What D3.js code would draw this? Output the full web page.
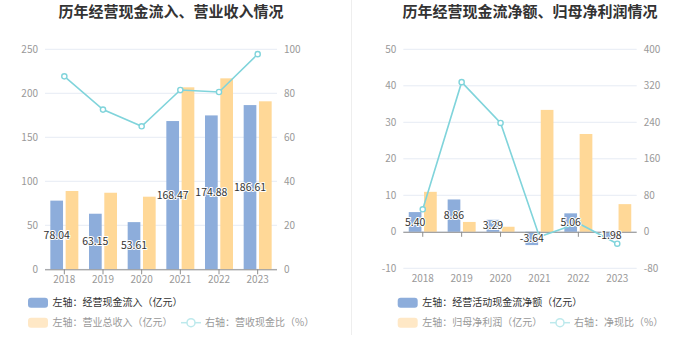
<!DOCTYPE html>
<html><head><meta charset="utf-8">
<script src="https://cdn.jsdelivr.net/npm/d3@7/dist/d3.min.js"></script>
<style>
html,body{margin:0;padding:0;background:#fff;}
svg{display:block;font-family:"Noto Sans CJK SC","Noto Sans",sans-serif;}
</style></head>
<body><svg id="c" width="700" height="359"></svg>
<script>
const years = ["2018","2019","2020","2021","2022","2023"];
// Left chart
const cashInflow = [78.04, 63.15, 53.61, 168.47, 174.88, 186.61];
const revenue = [89.0, 87.0, 82.5, 206.8, 217.0, 190.9];
const cashRatio = [87.7, 72.6, 65.0, 81.5, 80.6, 97.8];
const leftTicksL = [0, 50, 100, 150, 200, 250];
const leftTicksR = [0, 20, 40, 60, 80, 100];
// Right chart
const netCashFlow = [5.40, 8.86, 3.29, -3.64, 5.06, -1.98];
const netProfit = [10.95, 2.70, 1.38, 33.4, 26.8, 7.58];
const netRatio = [49.3, 328.0, 238.6, -10.9, 18.9, -26.1];
const rightTicksL = [-10, 0, 10, 20, 30, 40, 50];
const rightTicksR = [-80, 0, 80, 160, 240, 320, 400];

const BLUE = "#8DADDB", YEL = "#FFD897", CYAN = "#80D4DB";
const svg = d3.select("#c");

svg.append("line").attr("x1",351.5).attr("x2",351.5).attr("y1",0).attr("y2",335)
  .attr("stroke","#EEEEEE").attr("stroke-width",1);

function chart(o){
  const g = svg.append("g");
  g.append("text").attr("x",o.titleX).attr("y",17).attr("text-anchor","middle")
    .attr("font-size",15).attr("font-weight","bold").attr("fill","#333").text(o.title);
  const x = d3.scaleBand().domain(years).range([o.x0,o.x1]);
  const yL = d3.scaleLinear().domain(o.domL).range([o.yb,o.yt]);
  const yR = d3.scaleLinear().domain(o.domR).range([o.yb,o.yt]);
  const bw = x.bandwidth();
  const sub = d3.scaleBand().domain(["a","b"]).range([-14,14]).paddingInner(0.17);
  // grid
  g.selectAll(".grid").data(o.ticksL).enter().append("line")
    .attr("x1",o.x0).attr("x2",o.x1).attr("y1",d=>yL(d)).attr("y2",d=>yL(d))
    .attr("stroke","#E6EBF4").attr("stroke-width",1);
  // left axis labels
  g.selectAll(".tl").data(o.ticksL).enter().append("text")
    .attr("x",o.x0-7).attr("y",d=>yL(d)).attr("dy","0.35em").attr("text-anchor","end")
    .attr("font-size",10).attr("fill","#999").text(d=>d);
  g.selectAll(".tr").data(o.ticksR).enter().append("text")
    .attr("x",o.x1+7).attr("y",(d,i)=>yR(d)).attr("dy","0.35em").attr("text-anchor","start")
    .attr("font-size",10).attr("fill","#999").text(d=>d);
  // bars
  const bar = (vals,key,color)=>g.selectAll(".b"+key).data(vals).enter().append("rect")
    .attr("x",(d,i)=>x(years[i])+bw/2+sub(key)).attr("width",sub.bandwidth())
    .attr("y",d=>Math.min(yL(d),yL(0))).attr("height",d=>Math.abs(yL(d)-yL(0)))
    .attr("fill",color);
  bar(o.blue,"a",BLUE);
  bar(o.yellow,"b",YEL);
  // axis line at zero
  const y0 = yL(0);
  g.append("line").attr("x1",o.x0).attr("x2",o.x1).attr("y1",y0+0.5).attr("y2",y0+0.5)
    .attr("stroke","#8E8E8E").attr("stroke-width",1);
  g.selectAll(".tk").data(years).enter().append("line")
    .attr("x1",d=>x(d)+bw/2).attr("x2",d=>x(d)+bw/2).attr("y1",y0).attr("y2",y0+5)
    .attr("stroke","#8E8E8E").attr("stroke-width",1);
  g.selectAll(".xl").data(years).enter().append("text")
    .attr("x",d=>x(d)+bw/2).attr("y",o.yb+10.5).attr("dy","0.35em").attr("text-anchor","middle")
    .attr("font-size",10).attr("fill","#999").text(d=>d);
  // line
  const line = d3.line().x((d,i)=>x(years[i])+bw/2).y(d=>yR(d));
  g.append("path").datum(o.ratio).attr("d",line).attr("fill","none")
    .attr("stroke",CYAN).attr("stroke-width",1.6);
  g.selectAll(".pt").data(o.ratio).enter().append("circle")
    .attr("cx",(d,i)=>x(years[i])+bw/2).attr("cy",d=>yR(d)).attr("r",2.6)
    .attr("fill","#fff").attr("stroke",CYAN).attr("stroke-width",1.4);
  // labels
  g.selectAll(".lb").data(o.blue).enter().append("text")
    .attr("x",(d,i)=>x(years[i])+bw/2+sub("a")+sub.bandwidth()/2)
    .attr("y",d=>(yL(d)+yL(0))/2).attr("dy","0.35em").attr("text-anchor","middle")
    .attr("font-size",10.5).attr("fill","#333").attr("stroke","#fff").attr("stroke-width",2)
    .attr("paint-order","stroke").text(d=>d.toFixed(2));
  // legend
  const lg = g.append("g");
  lg.append("rect").attr("x",o.lx).attr("y",297.7).attr("width",20).attr("height",10).attr("rx",3).attr("fill",BLUE);
  lg.append("text").attr("x",o.lx+24.5).attr("y",302.7).attr("dy","0.35em").attr("font-size",10).attr("fill","#333").text(o.leg1);
  lg.append("rect").attr("x",o.lx).attr("y",317.7).attr("width",20).attr("height",10).attr("rx",3).attr("fill","#FFE8C6");
  lg.append("text").attr("x",o.lx+24.5).attr("y",322.7).attr("dy","0.35em").attr("font-size",10).attr("fill","#999").text(o.leg2);
  lg.append("line").attr("x1",o.lx3).attr("x2",o.lx3+20).attr("y1",322.7).attr("y2",322.7).attr("stroke","#BDE9EC").attr("stroke-width",1.5);
  lg.append("circle").attr("cx",o.lx3+10).attr("cy",322.7).attr("r",4).attr("fill","#fff").attr("stroke","#BDE9EC").attr("stroke-width",1.5);
  lg.append("text").attr("x",o.lx3+24).attr("y",322.7).attr("dy","0.35em").attr("font-size",10).attr("fill","#999").text(o.leg3);
}

chart({title:"历年经营现金流入、营业收入情况", titleX:171, x0:45, x1:277, yt:49.3, yb:269.3,
  domL:[0,250], domR:[0,100], ticksL:leftTicksL, ticksR:leftTicksR,
  blue:cashInflow, yellow:revenue, ratio:cashRatio, lx:28, lx3:181,
  leg1:"左轴：经营现金流入（亿元）", leg2:"左轴：营业总收入（亿元）", leg3:"右轴：营收现金比（%）"});
chart({title:"历年经营现金流净额、归母净利润情况", titleX:530, x0:403.3, x1:636.7, yt:49.3, yb:268.3,
  domL:[-10,50], domR:[-80,400], ticksL:rightTicksL, ticksR:rightTicksR,
  blue:netCashFlow, yellow:netProfit, ratio:netRatio, lx:397.7, lx3:550,
  leg1:"左轴：经营活动现金流净额（亿元）", leg2:"左轴：归母净利润（亿元）", leg3:"右轴：净现比（%）"});
</script></body></html>
